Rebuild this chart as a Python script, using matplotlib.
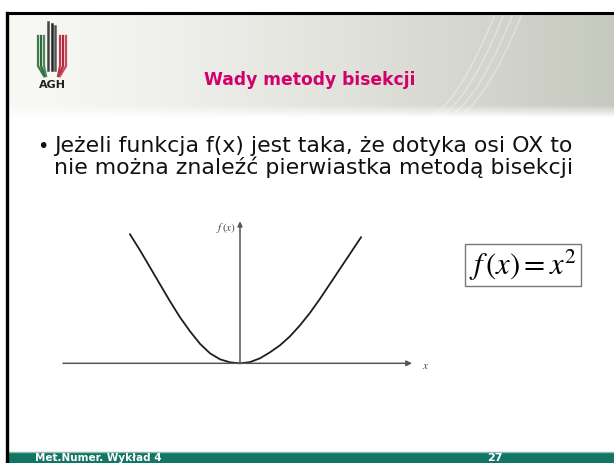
import numpy as np
import matplotlib
matplotlib.use('Agg')
import matplotlib.pyplot as plt
from matplotlib.patches import Rectangle

plt.rcParams['mathtext.fontset'] = 'stix'

# slide texts
title = 'Wady metody bisekcji'
bullet_lines = ['Jeżeli funkcja f(x) jest taka, że dotyka osi OX to',
                'nie można znaleźć pierwiastka metodą bisekcji']
footer_left = 'Met.Numer. Wykład 4'
footer_right = '27'
formula = r'$f\,(x)=x^2$'

# curve (x from the vertex, height above the OX axis)
curve_x = [-110, -100, -90, -80, -70, -60, -50, -40, -30, -20, -10, 0,
           10, 20, 30, 40, 50, 60, 70, 80, 90, 100, 110, 121]
curve_y = [129, 113, 96, 79, 62, 46, 32, 19.5, 10, 4, 1, 0,
           1.2, 5, 11, 18, 27, 38, 50.5, 64.5, 79.5, 94.5, 109.5, 126]
x_axis_span = [-177, 172]
y_axis_top = 142

fig = plt.figure(figsize=(6.14, 4.63), dpi=100)

# background axes in pixel units for the slide decoration
bg = fig.add_axes([0, 0, 1, 1])
bg.set_xlim(0, 614)
bg.set_ylim(463, 0)
bg.axis('off')

# header gradient
w, h = 600, 100
gx = np.linspace(0, 1, w)[None, :]
gy = np.linspace(0, 1, h)[:, None]
left_c = np.array([248, 248, 245]) / 255
right_c = np.array([198, 201, 190]) / 255
grad = left_c + (right_c - left_c) * (gx ** 1.3)[..., None]
fade = np.clip((1 - gy) / 0.12, 0, 1)[..., None]
grad = grad * fade + (1 - fade) * 1.0
grad = grad * np.ones((h, w, 1))
bg.imshow(grad, extent=[8, 614, 118, 14], aspect='auto', zorder=0)

# faint swooshes on the header
for off in [0, 9, 18, 27]:
    t = np.linspace(0, 1, 50)
    bg.plot(425 + off + 70 * t ** 0.6, 118 - 104 * t, color='white', lw=1.2, alpha=0.3, zorder=1)

# border
bg.plot([7, 614], [13, 13], color='black', lw=2.2, zorder=3)
bg.plot([7, 7], [13, 463], color='black', lw=2.4, zorder=3)

# logo
greens = ['#3f7a4e', '#2f6a3f', '#4c8a5a']
reds = ['#c0394d', '#b02a3f', '#cc4a5c']
greys = ['#444444', '#222222', '#555555']
for i in range(3):
    x = 38 + i * 3
    bg.plot([x, x, x + 6 - i * 2], [36, 66, 76], color=greens[i], lw=1.6, zorder=2)
    x = 48 + i * 3.5
    bg.plot([x, x], [22 + i * 2, 70], color=greys[i], lw=1.8, zorder=2)
    x = 60 + i * 3
    bg.plot([x, x, x - 2 - i * 2], [36, 66, 76], color=reds[i], lw=1.6, zorder=2)
bg.text(52, 85, 'AGH', fontsize=8, fontweight='bold', color='#222222',
        ha='center', va='center', zorder=2)

# title
bg.text(310, 80, title, fontsize=12.3, fontweight='bold', color='#d1006b',
        ha='center', va='center', zorder=2)

# bullet text
bg.text(43, 152, '•', fontsize=14, ha='center', va='baseline', color='#111111')
for i, line in enumerate(bullet_lines):
    bg.text(54, 152 + i * 22, line, fontsize=15.8, ha='left', va='baseline', color='#111111')

# formula box
bg.text(523, 265, formula, fontsize=22, ha='center', va='center', color='black',
        bbox=dict(boxstyle='square,pad=0.12', fc='white', ec='#777777', lw=1))

# footer
bg.add_patch(Rectangle((8, 452.5), 606, 11, color='#137566', zorder=2))
bg.plot([8, 614], [451.8, 451.8], color='#8fbcb2', lw=1, zorder=2)
bg.text(35, 462.8, footer_left, fontsize=7.5, fontweight='bold', color='white',
        ha='left', va='bottom', zorder=3)
bg.text(487, 462.8, footer_right, fontsize=8, fontweight='bold', color='white',
        ha='left', va='bottom', zorder=3)

# the graph
ax = fig.add_axes([63 / 614, (463 - 372) / 463, (430 - 63) / 614, (372 - 215) / 463])
ax.set_xlim(-177, 190)
ax.set_ylim(-8.7, 148.3)
ax.axis('off')
ax.patch.set_alpha(0)

ax.annotate('', xy=(x_axis_span[1], 0), xytext=(x_axis_span[0], 0),
            arrowprops=dict(arrowstyle='-|>', color='#555555', lw=1.1, mutation_scale=8,
                            shrinkA=0, shrinkB=0))
ax.annotate('', xy=(0, y_axis_top), xytext=(0, 0),
            arrowprops=dict(arrowstyle='-|>', color='#555555', lw=1.1, mutation_scale=7,
                            shrinkA=0, shrinkB=0))
ax.plot(curve_x, curve_y, color='#1e1e1e', lw=1.3, solid_joinstyle='round')
ax.text(-4, 135, '$f\\,(x)$', fontsize=8, color='#444444', ha='right', va='center')
ax.text(186, -3, '$x$', fontsize=8, color='#444444', ha='center', va='center')

fig.savefig('out.png', dpi=100)
